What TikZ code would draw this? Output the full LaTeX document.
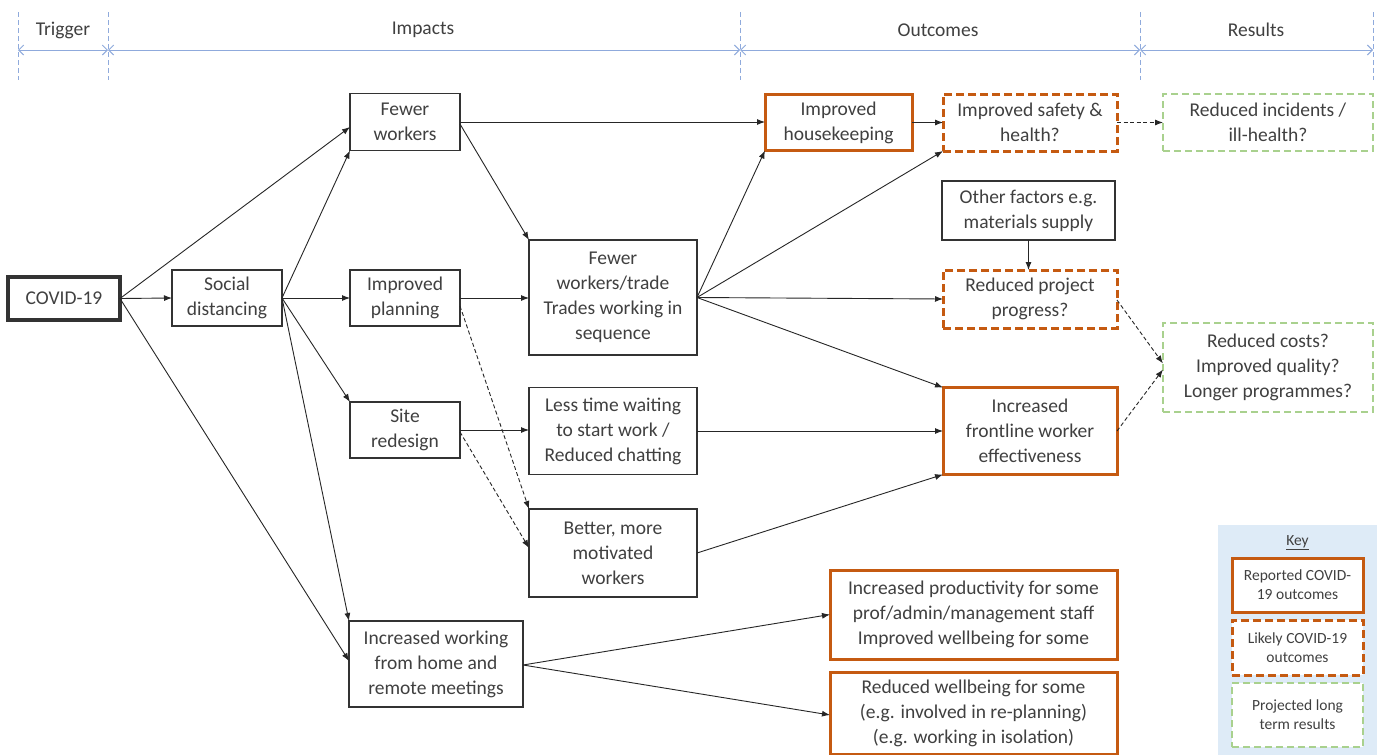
\documentclass[tikz,border=0pt]{standalone}
\usepackage{fontspec}
\setmainfont{Carlito}
\usetikzlibrary{arrows.meta}
\definecolor{txt}{HTML}{404040}
\definecolor{org}{HTML}{C55A11}
\definecolor{grn}{HTML}{A9D18E}
\definecolor{hdr}{HTML}{8FAADC}
\definecolor{keybg}{HTML}{DEEBF7}
\begin{document}
\begin{tikzpicture}[x=1pt,y=-1pt,
 every node/.style={font=\fontsize{19.5}{25}\selectfont, text=txt, align=center, inner sep=0pt, outer sep=0pt},
 bx/.style={draw=black!80, line width=1.6pt, rectangle, fill=white},
 rep/.style={draw=org, line width=3pt, rectangle, fill=white},
 lik/.style={draw=org, line width=3pt, dash pattern=on 8pt off 4pt, rectangle, fill=white},
 proj/.style={draw=grn, line width=2.5pt, dash pattern=on 7pt off 4pt, rectangle, fill=white},
 sz/.style 2 args={minimum width=#1pt, minimum height=#2pt},
 arr/.style={draw=black!85, line width=0.9pt, -{Latex[length=8pt,width=6pt]}},
 darr/.style={arr, dash pattern=on 4pt off 2.5pt},
 harr/.style={draw=hdr, line width=1pt, {Straight Barb[length=5pt,width=10pt]}-{Straight Barb[length=5pt,width=10pt]}},
 hdash/.style={draw=hdr, line width=0.8pt, dash pattern=on 5pt off 3pt},
 keyfont/.style={font=\fontsize{15.5}{19}\selectfont}
]
\useasboundingbox (0,0) rectangle (1387,755);
\fill[white] (0,0) rectangle (1387,755);

% header
\coordinate (h0) at (18,50);
\coordinate (h1) at (108,50);
\coordinate (h2) at (740,50);
\coordinate (h3) at (1140,50);
\coordinate (h4) at (1373,50);
\foreach \c in {h0,h1,h2,h3,h4}{\draw[hdash] ([yshift=38pt]\c) -- ([yshift=-30pt]\c);}
\draw[harr] (h0) -- (h1);
\draw[harr] (h1) -- (h2);
\draw[harr] (h2) -- (h3);
\draw[harr] (h3) -- (h4);
\node (ltrig) at (63,30) {Trigger};
\node (limp) at (423,30) {Impacts};
\node (lout) at (938,30) {Outcomes};
\node (lres) at (1256,30) {Results};

% nodes
\node[bx, line width=3.5pt, sz={112}{43}] (covid) at (64,298.5) {COVID-19};
\node[bx, sz={110}{56}] (sd) at (227,298) {Social\\distancing};
\node[bx, sz={110}{57}] (fw) at (405,122) {Fewer\\workers};
\node[bx, sz={110}{56}] (ip) at (405,298) {Improved\\planning};
\node[bx, sz={110}{56}] (sr) at (405,430) {Site\\redesign};
\node[bx, sz={174}{86}] (wfh) at (436,664) {Increased working\\from home and\\remote meetings};
\node[bx, sz={168}{115}] (ft) at (613,297.5) {Fewer\\workers/trade\\Trades working in\\sequence};
\node[bx, sz={168}{87}] (lt) at (613,431) {Less time waiting\\to start work /\\Reduced chatting};
\node[bx, sz={168}{88}] (bm) at (613,553) {Better, more\\motivated\\workers};
\node[rep, sz={147}{56}] (hk) at (838.5,122.5) {Improved\\housekeeping};
\node[lik, sz={174}{57}] (sh) at (1030,122.5) {Improved safety \&\\health?};
\node[proj, sz={210}{57}] (ri) at (1268,122.5) {Reduced incidents /\\ill-health?};
\node[bx, sz={173}{59}] (of) at (1028.5,210.5) {Other factors e.g.\\materials supply};
\node[lik, sz={174}{58}] (pp) at (1030,299) {Reduced project\\progress?};
\node[proj, sz={210}{89}] (rc) at (1268,367.5) {Reduced costs?\\Improved quality?\\Longer programmes?};
\node[rep, sz={174}{87}] (fe) at (1030,431) {Increased\\frontline worker\\effectiveness};
\node[rep, sz={287}{89}] (pr) at (973.5,614.5) {Increased productivity for some\\prof/admin/management staff\\Improved wellbeing for some};
\node[rep, sz={287}{82}] (rw) at (973.5,713) {Reduced wellbeing for some\\(e.g. involved in re-planning)\\(e.g. working in isolation)};

% key
\node[fill=keybg, sz={159}{232}] (key) at (1297.5,641) {};
\node[keyfont] (keyt) at (1297.5,543) {\underline{Key}};
\node[rep, keyfont, sz={131}{54}] (k1) at (1297.5,585) {Reported COVID-\\19 outcomes};
\node[lik, keyfont, sz={131}{55}] (k2) at (1297.5,647.5) {Likely COVID-19\\outcomes};
\node[proj, keyfont, sz={131}{64}] (k3) at (1297.5,715) {Projected long\\term results};

% connectors
\draw[arr] (covid.east) -- (sd.west);
\draw[arr] (covid.east) -- ([yshift=-5pt]fw.west);
\draw[arr] (covid.east) -- ([yshift=3pt]wfh.west);
\draw[arr] (sd.east) -- (fw.south west);
\draw[arr] (sd.east) -- (ip.west);
\draw[arr] (sd.east) -- (sr.north west);
\draw[arr] (sd.east) -- (wfh.north west);
\draw[arr] (fw.east) -- (fw.east -| hk.west);
\draw[arr] ([yshift=-2pt]fw.east) -- (ft.north west);
\draw[arr] (ip.east) -- (ip.east -| ft.west);
\draw[darr] ([yshift=-8pt]ip.east) -- (bm.north west);
\draw[arr] (sr.east) -- (sr.east -| lt.west);
\draw[darr] ([yshift=-2pt]sr.east) -- ([yshift=5pt]bm.west);
\draw[arr] (ft.east) -- (hk.south west);
\draw[arr] (ft.east) -- (sh.south west);
\draw[arr] (ft.east) -- (pp.west);
\draw[arr] (ft.east) -- (fe.north west);
\draw[arr] (lt.east) -- (fe.west);
\draw[arr] (bm.east) -- (fe.south west);
\draw[arr] (hk.east) -- (sh.west);
\draw[darr] (sh.east) -- (ri.west);
\draw[arr] (of.south) -- (of.south |- pp.north);
\draw[darr] ([yshift=-1pt]pp.east) -- ([yshift=4pt]rc.west);
\draw[darr] (fe.east) -- ([yshift=-2pt]rc.west);
\draw[arr] ([yshift=-1pt]wfh.east) -- (pr.west);
\draw[arr] ([yshift=-1pt]wfh.east) -- ([yshift=-2pt]rw.west);
\end{tikzpicture}
\end{document}
